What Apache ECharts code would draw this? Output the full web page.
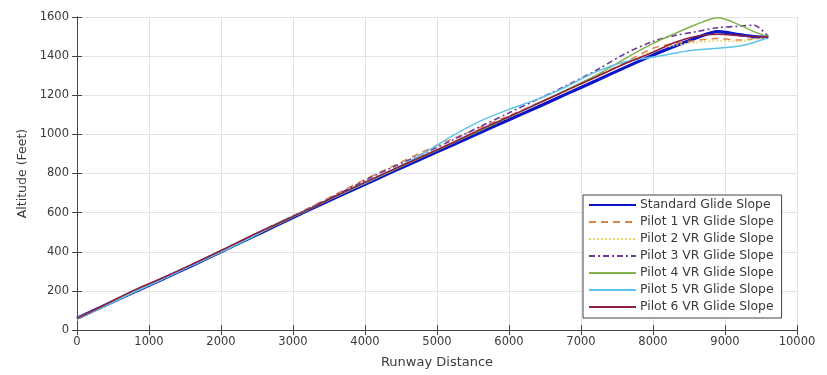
<!DOCTYPE html>
<html>
<head>
<meta charset="utf-8">
<script src="https://cdn.jsdelivr.net/npm/echarts@6/dist/echarts.min.js"></script>
<style>html,body{margin:0;padding:0;background:#fff;}#c{width:827px;height:375px;}</style>
</head>
<body>
<div id="c"></div>
<script>
const distances = [0, 400, 800, 1200, 1600, 2000, 2400, 2800, 3200, 3600, 4000, 4400, 4800, 5200, 5600, 6000, 6400, 6800, 7200, 7600, 8000, 8300, 8600, 8900, 9200, 9400, 9600];
const standardSlope = [60, 128, 195, 262, 330, 400, 470, 540, 610, 678, 745, 812, 878, 943, 1010, 1075, 1140, 1207, 1273, 1340, 1405, 1450, 1493, 1525, 1510, 1500, 1497];
const pilot1 = [55, 130, 200, 265, 335, 405, 478, 548, 620, 695, 770, 840, 910, 975, 1035, 1095, 1160, 1225, 1295, 1365, 1440, 1465, 1480, 1490, 1482, 1488, 1495];
const pilot2 = [50, 125, 195, 262, 332, 402, 472, 545, 615, 685, 752, 820, 888, 955, 1022, 1088, 1155, 1222, 1290, 1360, 1425, 1455, 1470, 1478, 1475, 1485, 1495];
const pilot3 = [60, 130, 198, 268, 335, 405, 475, 548, 618, 690, 765, 835, 900, 968, 1040, 1110, 1180, 1250, 1325, 1410, 1475, 1505, 1525, 1545, 1553, 1558, 1500];
const pilot4 = [62, 128, 196, 265, 333, 402, 472, 542, 612, 682, 750, 818, 885, 952, 1020, 1088, 1158, 1228, 1300, 1385, 1465, 1515, 1562, 1596, 1560, 1525, 1500];
const pilot5 = [55, 125, 195, 262, 330, 398, 470, 548, 615, 685, 752, 822, 900, 990, 1068, 1128, 1180, 1245, 1318, 1370, 1395, 1415, 1432, 1440, 1452, 1470, 1495];
const pilot6 = [58, 132, 205, 268, 336, 406, 478, 546, 614, 686, 755, 822, 888, 955, 1025, 1090, 1158, 1225, 1292, 1360, 1420, 1470, 1502, 1512, 1505, 1500, 1497];
const xTicks = [0, 1000, 2000, 3000, 4000, 5000, 6000, 7000, 8000, 9000, 10000];
const yTicks = [0, 200, 400, 600, 800, 1000, 1200, 1400, 1600];
const seriesNames = ['Standard Glide Slope', 'Pilot 1 VR Glide Slope', 'Pilot 2 VR Glide Slope', 'Pilot 3 VR Glide Slope', 'Pilot 4 VR Glide Slope', 'Pilot 5 VR Glide Slope', 'Pilot 6 VR Glide Slope'];

const pair = arr => distances.map((d, i) => [d, arr[i]]);
const styles = [
  {color: '#0a14c8', width: 3.2, type: 'solid'},
  {color: '#d9844a', width: 1.5, type: [7, 5]},
  {color: '#e8d36a', width: 1.5, type: [2, 2]},
  {color: '#6b3a9a', width: 1.6, type: [6, 3, 2, 3]},
  {color: '#7fb24a', width: 1.5, type: 'solid'},
  {color: '#5ec3ea', width: 1.5, type: 'solid'},
  {color: '#8e1e44', width: 1.6, type: 'solid'}
];
const dataSets = [standardSlope, pilot1, pilot2, pilot3, pilot4, pilot5, pilot6];
const font = 'DejaVu Sans';
const txt = '#3a3a3a';

const series = dataSets.map((d, i) => ({
  name: seriesNames[i], type: 'line', data: pair(d), symbol: 'none', smooth: 0.3,
  z: i === 0 ? 2 : 3,
  lineStyle: {color: styles[i].color, width: styles[i].width, type: styles[i].type},
  itemStyle: {color: styles[i].color}
}));
const chart = echarts.init(document.getElementById('c'));
chart.setOption({
  animation: false,
  backgroundColor: '#fff',
  grid: {left: 77, right: 30, top: 17, bottom: 45, show: false},
  legend: {
    orient: 'vertical', left: 583, top: 195, data: seriesNames,
    backgroundColor: '#fff', borderColor: '#444', borderWidth: 1,
    padding: [4, 8, 5, 5], itemGap: 5, itemWidth: 47, itemHeight: 13,
    itemStyle: {opacity: 0},
    textStyle: {fontFamily: font, fontSize: 12.4, color: txt, padding: [0, 0, 0, -1]}
  },
  xAxis: [{
    type: 'value', min: xTicks[0], max: xTicks[xTicks.length - 1], interval: 1000,
    name: 'Runway Distance', nameLocation: 'middle', nameGap: 26,
    nameTextStyle: {fontFamily: font, fontSize: 13, color: txt},
    axisLine: {show: true, lineStyle: {color: '#444', width: 1}},
    axisTick: {show: true, inside: true, length: 5, lineStyle: {color: '#444'}},
    axisLabel: {fontFamily: font, fontSize: 11.5, color: txt, margin: 6, formatter: v => String(v)},
    splitLine: {show: true, lineStyle: {color: '#e3e3e3', width: 1}}
  }, {
    type: 'value', position: 'top', min: 0, max: 10000, interval: 1000,
    axisLine: {show: true, lineStyle: {color: '#444', width: 1}},
    axisTick: {show: true, inside: true, length: 5, lineStyle: {color: '#444'}},
    axisLabel: {show: false}, splitLine: {show: false}
  }],
  yAxis: [{
    type: 'value', min: yTicks[0], max: yTicks[yTicks.length - 1], interval: 200,
    name: 'Altitude (Feet)', nameLocation: 'middle', nameGap: 37, nameRotate: 90,
    nameTextStyle: {fontFamily: font, fontSize: 12.5, color: txt},
    axisLine: {show: true, lineStyle: {color: '#444', width: 1}},
    axisTick: {show: true, inside: true, length: 5, lineStyle: {color: '#444'}},
    axisLabel: {fontFamily: font, fontSize: 11.5, color: txt, margin: 8, formatter: v => String(v)},
    splitLine: {show: true, lineStyle: {color: '#e3e3e3', width: 1}}
  }, {
    type: 'value', position: 'right', min: 0, max: 1600, interval: 200,
    axisLine: {show: true, lineStyle: {color: '#444', width: 1}},
    axisTick: {show: true, inside: true, length: 5, lineStyle: {color: '#444'}},
    axisLabel: {show: false}, splitLine: {show: false}
  }],
  series: series
});
</script>
</body>
</html>
